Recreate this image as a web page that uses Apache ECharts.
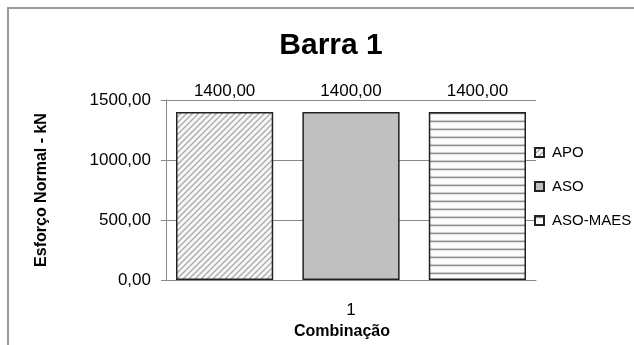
<!DOCTYPE html>
<html>
<head>
<meta charset="utf-8">
<script src="https://cdn.jsdelivr.net/npm/echarts@6/dist/echarts.min.js"></script>
<style>
    html, body { margin: 0; padding: 0; background: #fff; }
    #chart { width: 634px; height: 345px; }
</style>
</head>
<body>
<div id="chart"></div>
<script>
const categories = ["1"];
const seriesNames = ["APO", "ASO", "ASO-MAES"];
const apoValues = [1400];
const asoValues = [1400];
const asoMaesValues = [1400];
const yMin = 0;
const yMax = 1500;
const yInterval = 500;

const font = "'Liberation Sans', Arial, sans-serif";

function formatComma(value) {
    return Number(value).toFixed(2).replace(".", ",");
}

// small canvas tiles for the hatched fills
function diagonalPattern() {
    let c = document.createElement("canvas");
    c.width = 6;
    c.height = 6;
    let ctx = c.getContext("2d");
    ctx.fillStyle = "#f8f8f8";
    ctx.fillRect(0, 0, 6, 6);
    ctx.strokeStyle = "#aaaaaa";
    ctx.lineWidth = 1.3;
    ctx.beginPath();
    ctx.moveTo(-1, 7);
    ctx.lineTo(7, -1);
    ctx.moveTo(-4, 4);
    ctx.lineTo(4, -4);
    ctx.moveTo(2, 10);
    ctx.lineTo(10, 2);
    ctx.stroke();
    return c;
}

function horizontalPattern() {
    let c = document.createElement("canvas");
    c.width = 8;
    c.height = 8;
    let ctx = c.getContext("2d");
    ctx.fillStyle = "#fbfbfb";
    ctx.fillRect(0, 0, 8, 8);
    ctx.fillStyle = "#cccccc";
    ctx.fillRect(0, 0, 8, 1);
    ctx.fillStyle = "#8c8c8c";
    ctx.fillRect(0, 1, 8, 1.2);
    return c;
}

let fills = [
    { image: diagonalPattern(), repeat: "repeat" },
    "#c0c0c0",
    { image: horizontalPattern(), repeat: "repeat" }
];
let values = [apoValues, asoValues, asoMaesValues];

let chart = echarts.init(document.getElementById("chart"));
let option = {
    animation: false,
    textStyle: {
        fontFamily: font
    },
    title: {
        text: "Barra 1",
        left: 326,
        top: 26,
        textAlign: "center",
        textStyle: {
            fontFamily: font,
            fontSize: 30,
            fontWeight: "bold",
            color: "#000"
        }
    },
    graphic: [
        {
            type: "rect",
            shape: { x: 8, y: 8, width: 700, height: 400 },
            style: { fill: "none", stroke: "#999", lineWidth: 2 },
            silent: true
        }
    ],
    legend: {
        orient: "vertical",
        left: 534,
        top: 145,
        padding: 0,
        itemWidth: 9,
        itemHeight: 9,
        itemGap: 19,
        icon: "rect",
        textStyle: {
            fontFamily: font,
            fontSize: 15,
            color: "#000",
            padding: [0, 0, 0, 3]
        },
        data: seriesNames
    },
    grid: {
        left: 166,
        right: 98,
        top: 100,
        bottom: 65,
        containLabel: false
    },
    xAxis: {
        type: "category",
        data: categories,
        name: "Combinação",
        nameLocation: "middle",
        nameGap: 37,
        nameTextStyle: {
            fontFamily: font,
            fontSize: 16,
            fontWeight: "bold",
            color: "#000",
            padding: [0, 18, 0, 0]
        },
        axisLine: { lineStyle: { color: "#888", width: 1 } },
        axisTick: { show: false },
        axisLabel: {
            margin: 22,
            fontSize: 17,
            color: "#000"
        }
    },
    yAxis: {
        type: "value",
        min: yMin,
        max: yMax,
        interval: yInterval,
        name: "Esforço Normal - kN",
        nameLocation: "middle",
        nameGap: 116,
        nameTextStyle: {
            fontFamily: font,
            fontSize: 16,
            fontWeight: "bold",
            color: "#000"
        },
        axisLine: { show: true, lineStyle: { color: "#888", width: 1 } },
        axisTick: { show: true, length: 5, lineStyle: { color: "#888" } },
        splitLine: { lineStyle: { color: "#888", width: 1 } },
        axisLabel: {
            margin: 15,
            fontSize: 17,
            color: "#000",
            formatter: formatComma
        }
    },
    series: seriesNames.map(function (name, i) {
        return {
            name: name,
            type: "bar",
            data: values[i],
            barGap: "30%",
            barCategoryGap: "5.4%",
            itemStyle: {
                color: fills[i],
                borderColor: "#222",
                borderWidth: 1.5
            },
            label: {
                show: true,
                position: "top",
                distance: 12,
                fontFamily: font,
                fontSize: 17,
                color: "#000",
                formatter: function (p) {
                    return formatComma(p.value);
                }
            }
        };
    })
};
chart.setOption(option);
</script>
</body>
</html>
